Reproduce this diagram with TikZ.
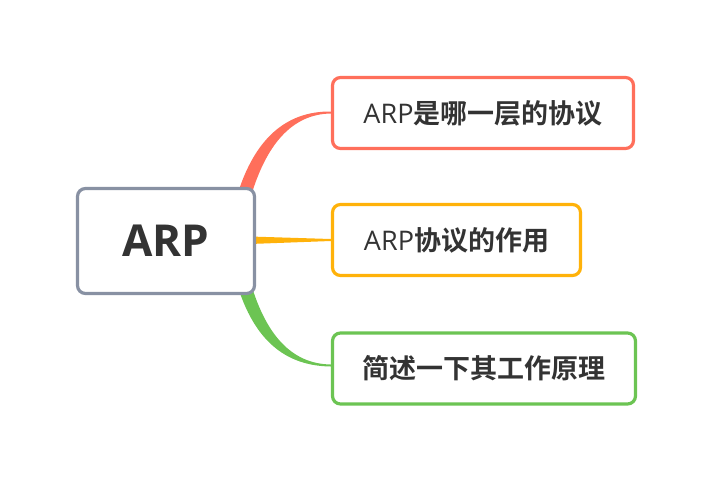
\documentclass[tikz,border=0pt]{standalone}
\usepackage{fontspec}
\newfontfamily\latinfont{Open Sans}
\newfontfamily\cjk{Noto Sans CJK SC Bold}
\definecolor{cred}{HTML}{FF6F5B}
\definecolor{cyel}{HTML}{FFB20A}
\definecolor{cgrn}{HTML}{6CC453}
\definecolor{cgray}{HTML}{8891A3}
\definecolor{ctext}{HTML}{333333}
\begin{document}
\begin{tikzpicture}[x=1pt,y=-1pt,
  box/.style={draw,line width=3.2pt,rounded corners=8pt,fill=white,inner sep=0pt,text=ctext},
  child/.style={box,minimum height=71pt,font=\fontsize{27}{30}\selectfont}]
\useasboundingbox (0,0) rectangle (711,480);
% connectors (tapered)
\fill[cred] (237,196) .. controls (254,140) and (285,111) .. (331,111.5)
  -- (331,113.5) .. controls (291,114) and (266,146) .. (251,196) -- cycle;
\fill[cyel] (250,236.5) -- (331,239) -- (331,241) -- (250,244) -- cycle;
\fill[cgrn] (237,284) .. controls (254,340) and (285,366) .. (331,366.5)
  -- (331,364.5) .. controls (291,364) and (266,334) .. (251,284) -- cycle;
% nodes
\node[box,draw=cgray,minimum width=177pt,minimum height=105pt,
  font=\fontsize{44}{50}\selectfont] (root) at (166,241) {\latinfont\bfseries ARP};
\node[child,draw=cred,minimum width=301pt] (a) at (483,113) {\latinfont ARP\cjk 是哪一层的协议};
\node[child,draw=cyel,minimum width=248pt] (b) at (456.5,240) {\latinfont ARP\cjk 协议的作用};
\node[child,draw=cgrn,minimum width=303pt] (c) at (484,368.5) {\cjk 简述一下其工作原理};
\end{tikzpicture}
\end{document}
